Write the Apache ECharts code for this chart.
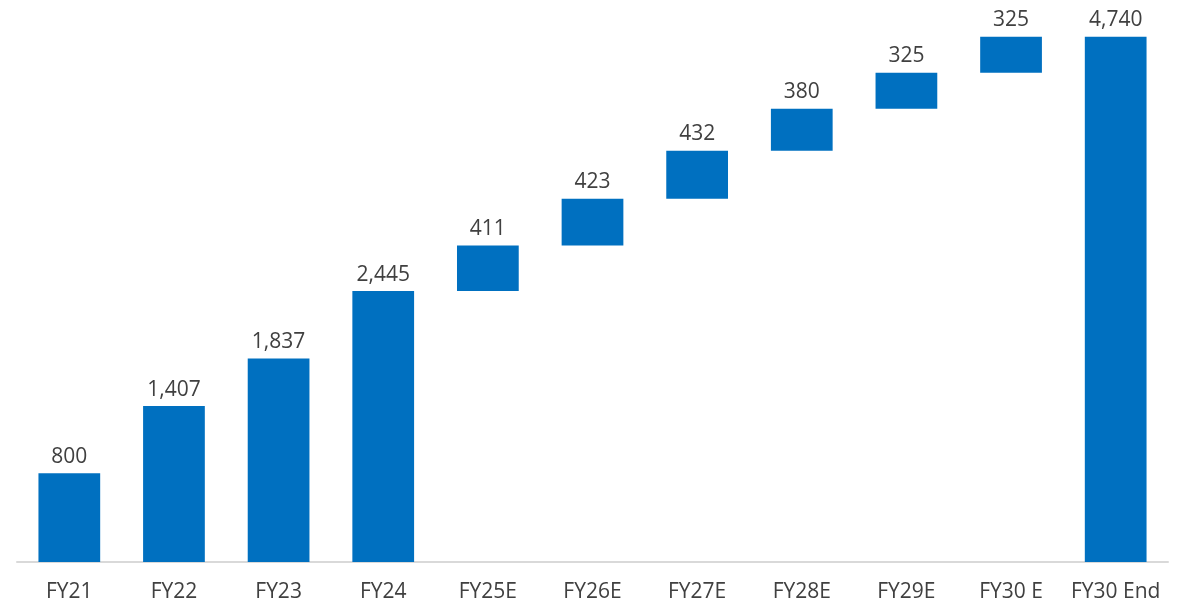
<!DOCTYPE html>
<html>
<head>
<meta charset="utf-8">
<script src="https://cdn.jsdelivr.net/npm/echarts@6/dist/echarts.min.js"></script>
<style>
  html, body { margin: 0; padding: 0; background: #ffffff; }
  #chart { width: 1191px; height: 607px; }
</style>
</head>
<body>
<div id="chart"></div>
<script>
// Year labels along the bottom
const categories = ['FY21', 'FY22', 'FY23', 'FY24', 'FY25E', 'FY26E', 'FY27E', 'FY28E', 'FY29E', 'FY30 E', 'FY30 End'];
// Reported totals (FY21–FY24) and the closing total
const actualTotals = [800, 1407, 1837, 2445];
const endTotal = 4740;
// Projected yearly additions FY25E–FY30 E
const increments = [411, 423, 432, 380, 325, 325];

// Build the floating bases and visible heights for the waterfall
const baseData = [];
const barData = [];
actualTotals.forEach(v => { baseData.push(0); barData.push(v); });
let running = actualTotals[actualTotals.length - 1];
increments.forEach(v => { baseData.push(running); barData.push(v); running += v; });
baseData.push(0);
barData.push(endTotal);

const textColor = '#404040';
const fontFamily = '"Open Sans", "Noto Sans", sans-serif';

const chart = echarts.init(document.getElementById('chart'), null, { renderer: 'canvas' });
chart.setOption({
  animation: false,
  grid: { left: 17, right: 23, top: 8, bottom: 45, containLabel: false },
  xAxis: {
    type: 'category',
    data: categories,
    axisTick: { show: false },
    axisLine: { show: true, lineStyle: { color: '#d9d9d9', width: 2 } },
    axisLabel: {
      interval: 0,
      hideOverlap: false,
      color: textColor,
      fontSize: 21,
      fontFamily: fontFamily,
      margin: 20
    }
  },
  yAxis: {
    type: 'value',
    min: 0,
    max: 5000,
    show: false,
    splitLine: { show: false }
  },
  series: [
    {
      type: 'bar',
      stack: 'wf',
      data: baseData,
      itemStyle: { color: 'transparent' },
      emphasis: { disabled: true },
      silent: true,
      barWidth: '59%'
    },
    {
      type: 'bar',
      stack: 'wf',
      data: barData,
      barWidth: '59%',
      itemStyle: { color: '#0070C0' },
      label: {
        show: true,
        position: 'top',
        distance: 6,
        color: textColor,
        fontSize: 21,
        fontFamily: fontFamily,
        formatter: p => p.value.toLocaleString('en-US')
      }
    }
  ]
});
</script>
</body>
</html>
